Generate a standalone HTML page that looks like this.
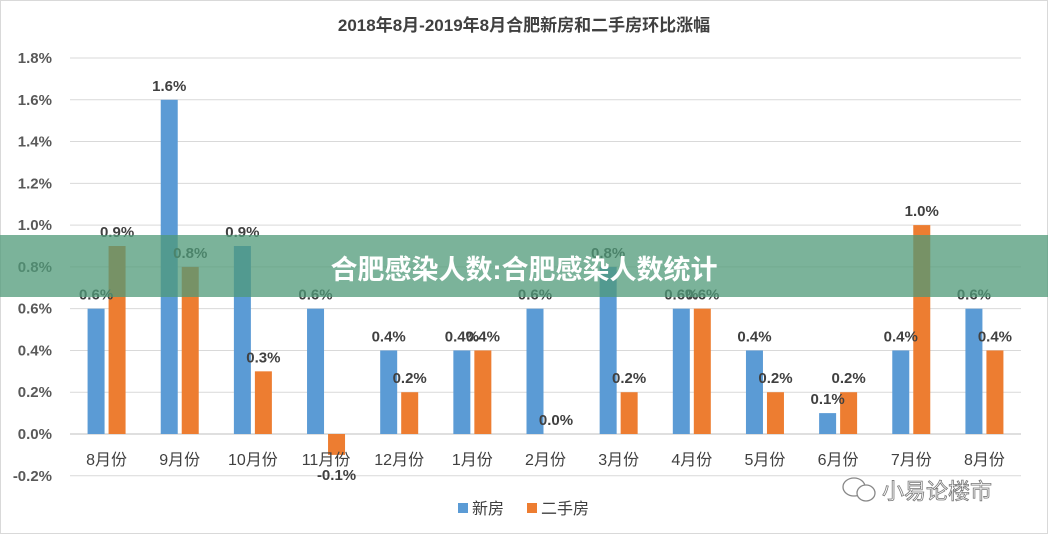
<!DOCTYPE html>
<html><head><meta charset="utf-8"><style>
body{margin:0;background:#fff;}
svg text{font-family:"Liberation Sans","Noto Sans CJK SC",sans-serif;}
</style></head><body>
<svg id="c" width="1048" height="534" xmlns="http://www.w3.org/2000/svg">
<rect x="0.5" y="0.5" width="1047" height="533" fill="#fff" stroke="#d9d9d9"/>
<text x="524" y="31" text-anchor="middle" font-size="17" font-weight="bold" fill="#404040">2018年8月-2019年8月合肥新房和二手房环比涨幅</text>
<g id="grid"></g><g id="bars"></g><g id="labels"></g>
<g>
<rect x="458" y="503" width="10" height="10" fill="#5b9bd5"/>
<text x="472" y="514" font-size="16" fill="#404040">新房</text>
<rect x="527" y="503" width="10" height="10" fill="#ed7d31"/>
<text x="541" y="514" font-size="16" fill="#404040">二手房</text>
</g>
<g>
<ellipse cx="854" cy="487" rx="11" ry="9" fill="none" stroke="#888" stroke-width="1.3"/>
<ellipse cx="866" cy="493" rx="9" ry="8" fill="#fff" stroke="#888" stroke-width="1.3"/>
<text x="882" y="499" font-size="22" fill="#fff" stroke="#777" stroke-width="0.8">小易论楼市</text>
</g>
<rect x="0" y="235" width="1048" height="62" fill="#4f9a78" fill-opacity="0.75"/>
<text x="524" y="279" text-anchor="middle" font-size="27" font-weight="bold" fill="#fff">合肥感染人数:合肥感染人数统计</text>
</svg>
<script>
const categories=["8月份","9月份","10月份","11月份","12月份","1月份","2月份","3月份","4月份","5月份","6月份","7月份","8月份"];
const newHouse=[0.6,1.6,0.9,0.6,0.4,0.4,0.6,0.8,0.6,0.4,0.1,0.4,0.6];
const secondHouse=[0.9,0.8,0.3,-0.1,0.2,0.4,0.0,0.2,0.6,0.2,0.2,1.0,0.4];
const yTicks=[-0.2,0,0.2,0.4,0.6,0.8,1.0,1.2,1.4,1.6,1.8];
const NS="http://www.w3.org/2000/svg";
const x0=70,x1=1021,yTop=58,yZero=434,step=(yZero-yTop)/1.8;
const y=v=>yZero-v*step;
const band=(x1-x0)/categories.length;
const cx=i=>x0+band*(i+0.5);
function mk(t,a,p){const e=document.createElementNS(NS,t);for(const k in a)e.setAttribute(k,a[k]);p.appendChild(e);return e;}
const grid=document.getElementById('grid'),bars=document.getElementById('bars'),labels=document.getElementById('labels');
yTicks.forEach(v=>{
 const l=mk('line',{x1:x0,x2:x1,y1:y(v),y2:y(v),stroke:v===0?'#bfbfbf':'#d9d9d9','stroke-width':1},grid);
 
 
 const t=mk('text',{x:52,y:y(v)+5,'text-anchor':'end','font-size':15,'font-weight':'bold',fill:'#595959'},grid);
 t.textContent=v.toFixed(1)+'%';
 
 
});
const bw=17;
categories.forEach((c,i)=>{
 const t=mk('text',{x:cx(i),y:465,'text-anchor':'middle','font-size':16,fill:'#404040'},labels);
 t.textContent=c;
 
 
 [[newHouse,'#5b9bd5',-bw-2,'bar-new'],[secondHouse,'#ed7d31',2,'bar-second']].forEach(([arr,col,off,nm])=>{
  const v=arr[i],bx=cx(i)+off;
  const r=mk('rect',{x:bx,y:Math.min(y(v),yZero),width:bw,height:Math.abs(y(v)-yZero),fill:col},bars);
  
  
  const ly=v>=0?y(v)-9:y(v)+25;
  const lt=mk('text',{x:bx+bw/2,y:ly,'text-anchor':'middle','font-size':15,'font-weight':'bold',fill:'#404040'},labels);
  lt.textContent=v.toFixed(1)+'%';
  
  
 });
});
</script>
</body></html>
